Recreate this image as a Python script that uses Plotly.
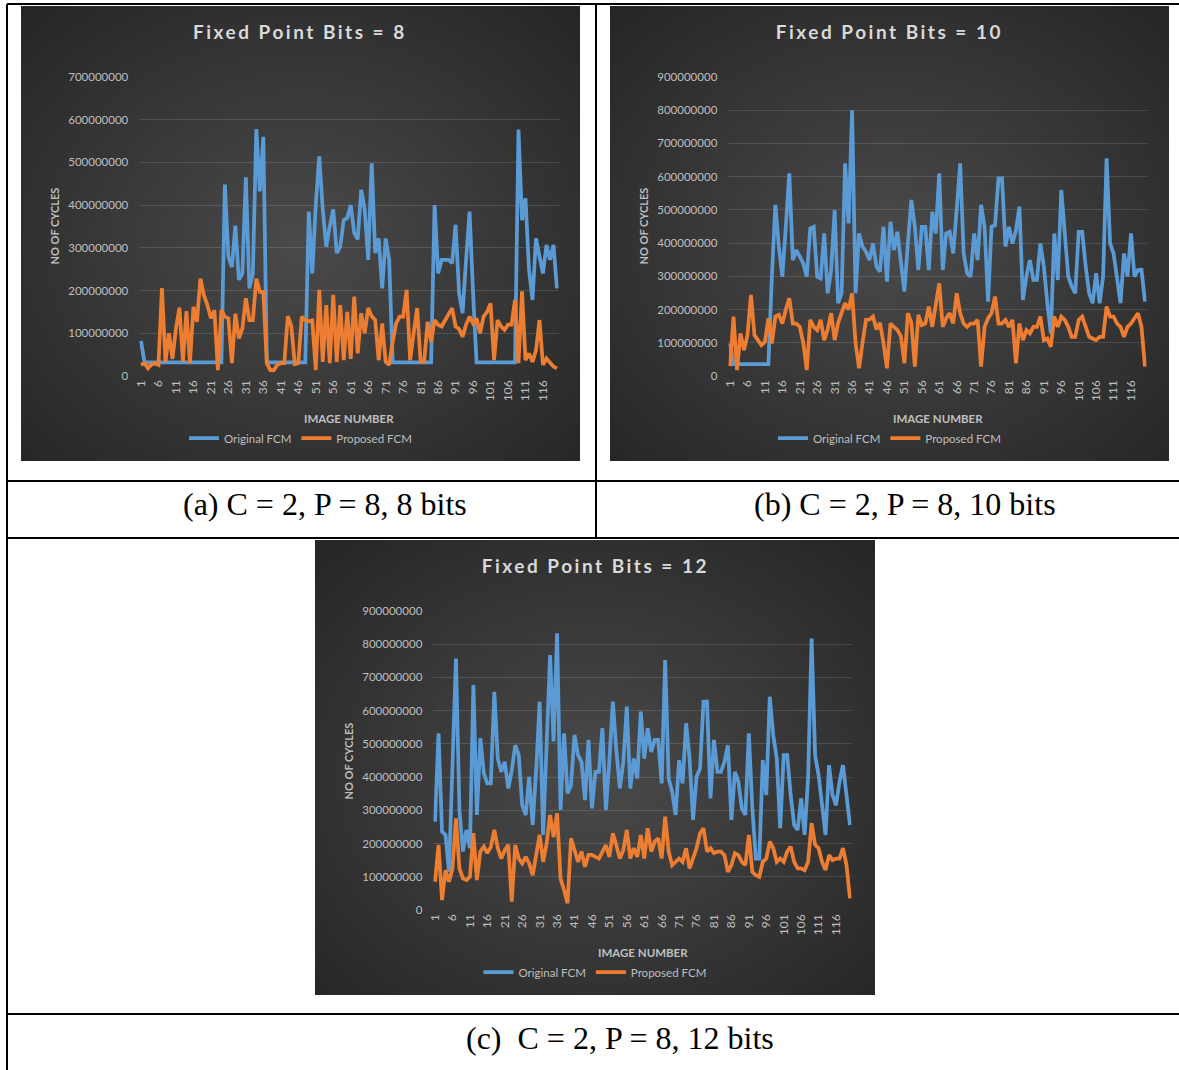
import base64
import plotly.graph_objects as go

W, H = 1179, 1070

# ---------------- data (values in millions of cycles) ----------------
image_numbers = list(range(1, 121))
x_tick_vals = [1, 6, 11, 16, 21, 26, 31, 36, 41, 46, 51, 56, 61, 66, 71, 76, 81, 86, 91, 96, 101, 106, 111, 116]
x_tick_text = [str(v) for v in x_tick_vals]

a_orig = [82, 32, 32, 32, 32, 32, 32, 32, 32, 32,
          32, 32, 32, 32, 32, 32, 32, 32, 32, 32,
          32, 32, 32, 32, 448, 280, 255, 352, 225, 240,
          465, 205, 240, 578, 432, 560, 32, 32, 32, 32,
          32, 32, 32, 32, 32, 32, 32, 32, 385, 240,
          400, 514, 389, 303, 350, 390, 288, 303, 365, 370,
          400, 335, 320, 436, 390, 272, 498, 288, 322, 205,
          322, 272, 32, 32, 32, 32, 32, 32, 32, 32,
          32, 32, 32, 32, 400, 240, 272, 272, 272, 264,
          354, 194, 147, 272, 385, 194, 32, 32, 32, 32,
          32, 32, 32, 32, 32, 32, 32, 32, 577, 365,
          416, 250, 178, 322, 280, 240, 307, 272, 307, 205]
a_prop = [26, 30, 18, 27, 30, 26, 206, 33, 100, 40,
          111, 160, 33, 152, 30, 162, 127, 228, 189, 166,
          135, 154, 14, 154, 139, 135, 30, 146, 88, 111,
          182, 131, 131, 228, 197, 197, 30, 14, 14, 26,
          30, 30, 140, 117, 28, 30, 139, 131, 128, 130,
          14, 202, 33, 166, 30, 190, 33, 166, 37, 150,
          40, 186, 53, 147, 100, 159, 140, 131, 37, 123,
          33, 26, 80, 123, 139, 139, 202, 37, 100, 159,
          33, 33, 127, 80, 131, 120, 116, 130, 145, 159,
          116, 110, 92, 120, 139, 123, 135, 100, 139, 150,
          170, 37, 131, 116, 108, 120, 120, 178, 30, 198,
          37, 53, 33, 60, 131, 26, 41, 30, 22, 18]

b_orig = [98, 36, 36, 36, 36, 36, 36, 36, 36, 36,
          36, 36, 300, 515, 389, 299, 450, 610, 349, 379,
          359, 339, 299, 444, 449, 299, 294, 429, 249, 319,
          499, 219, 249, 640, 459, 800, 249, 429, 389, 374,
          349, 399, 329, 314, 449, 284, 464, 379, 434, 349,
          254, 399, 530, 449, 319, 449, 449, 319, 494, 429,
          610, 319, 429, 434, 369, 500, 640, 369, 309, 299,
          429, 349, 515, 449, 224, 449, 454, 595, 595, 389,
          449, 399, 439, 510, 229, 300, 349, 289, 289, 399,
          330, 220, 128, 429, 289, 560, 440, 299, 270, 249,
          434, 434, 330, 249, 219, 309, 219, 300, 655, 399,
          369, 300, 219, 369, 299, 429, 299, 319, 320, 224]
b_prop = [30, 179, 18, 128, 78, 123, 244, 123, 108, 93,
          103, 174, 98, 179, 184, 158, 200, 234, 158, 158,
          148, 100, 18, 169, 148, 138, 169, 108, 140, 189,
          108, 160, 190, 219, 200, 249, 100, 23, 100, 169,
          170, 179, 140, 160, 100, 23, 158, 148, 138, 120,
          38, 189, 160, 28, 184, 153, 158, 209, 148, 214,
          279, 148, 174, 189, 158, 249, 189, 158, 148, 158,
          158, 169, 28, 148, 174, 189, 239, 158, 158, 169,
          148, 169, 38, 158, 108, 138, 128, 148, 148, 179,
          108, 113, 88, 179, 148, 179, 169, 148, 118, 118,
          169, 179, 148, 118, 113, 108, 118, 118, 209, 179,
          179, 158, 148, 118, 148, 158, 174, 189, 148, 28]

c_orig = [266, 532, 236, 226, 115, 400, 757, 300, 176, 241,
          186, 677, 286, 517, 411, 381, 381, 657, 456, 416,
          446, 366, 420, 496, 466, 316, 286, 401, 256, 420,
          627, 226, 500, 767, 507, 833, 301, 532, 351, 376,
          527, 466, 446, 331, 512, 306, 416, 416, 547, 301,
          450, 627, 480, 366, 446, 612, 366, 456, 396, 597,
          456, 547, 476, 512, 512, 381, 752, 396, 356, 286,
          451, 381, 562, 456, 271, 401, 426, 627, 627, 336,
          512, 416, 416, 446, 496, 271, 416, 386, 306, 286,
          532, 306, 155, 155, 451, 346, 642, 526, 456, 246,
          466, 466, 346, 256, 241, 336, 226, 400, 817, 466,
          406, 306, 226, 436, 346, 315, 386, 436, 346, 256]
c_prop = [85, 196, 30, 120, 85, 125, 276, 125, 95, 90,
          100, 231, 90, 176, 191, 171, 190, 241, 186, 155,
          180, 196, 25, 196, 155, 140, 160, 140, 105, 170,
          226, 145, 200, 286, 220, 291, 95, 60, 20, 216,
          176, 145, 176, 130, 166, 166, 160, 155, 175, 195,
          160, 231, 195, 155, 180, 241, 155, 186, 160, 226,
          155, 246, 176, 206, 216, 155, 281, 176, 135, 145,
          155, 145, 186, 125, 155, 186, 231, 246, 176, 186,
          171, 176, 176, 165, 115, 135, 171, 165, 145, 135,
          226, 115, 105, 100, 145, 155, 206, 186, 145, 155,
          145, 176, 191, 145, 125, 125, 120, 145, 261, 196,
          186, 145, 120, 165, 150, 155, 155, 186, 135, 35]

series_names = ["Original FCM", "Proposed FCM"]
chart_titles = ["Fixed Point Bits = 8", "Fixed Point Bits = 10", "Fixed Point Bits = 12"]
captions = ["(a) C = 2, P = 8, 8 bits", "(b) C = 2, P = 8, 10 bits", "(c)\u00a0 C = 2, P = 8, 12 bits"]
y_max = [700, 900, 900]

# ---------------- layout helpers ----------------
def px(x):
    return x / W


def py(y):
    return 1 - y / H


BLUE = "#5B9BD5"
ORANGE = "#ED7D31"
TXT = "#BFBFBF"
FONT = "Lato"

charts = [
    dict(box=(21, 6, 580, 461), plot=(139.25, 77, 558.7, 376), cap=(325, 504)),
    dict(box=(610, 6, 1169, 461), plot=(728.3, 77, 1146.7, 376), cap=(905, 504)),
    dict(box=(315, 540, 875, 995), plot=(433.3, 611, 851.7, 910), cap=(620, 1038)),
]
data_sets = [(a_orig, a_prop), (b_orig, b_prop), (c_orig, c_prop)]

fig = go.Figure()
layout = dict(
    width=W, height=H, autosize=False,
    margin=dict(l=0, r=0, t=0, b=0, pad=0, autoexpand=False),
    paper_bgcolor="white",
    plot_bgcolor="rgba(0,0,0,0)",
    showlegend=True,
    images=[], shapes=[], annotations=[],
)


def grad_src(w, h):
    svg = (
        f'<svg xmlns="http://www.w3.org/2000/svg" width="{w}" height="{h}" '
        f'viewBox="0 0 {w} {h}" preserveAspectRatio="none">'
        '<defs><radialGradient id="g" cx="50%" cy="52%" r="72%">'
        '<stop offset="0%" stop-color="#4a4a4a"/>'
        '<stop offset="100%" stop-color="#252525"/>'
        '</radialGradient></defs>'
        f'<rect width="{w}" height="{h}" fill="url(#g)"/></svg>'
    )
    return "data:image/svg+xml;base64," + base64.b64encode(svg.encode()).decode()


for k, ch in enumerate(charts):
    sfx = "" if k == 0 else str(k + 1)
    xa, ya = "xaxis" + sfx, "yaxis" + sfx
    xr, yr = "x" + sfx, "y" + sfx
    leg = "legend" + sfx
    x0, y0, x1, y1 = ch["box"]
    p0, q0, p1, q1 = ch["plot"]
    orig, prop = data_sets[k]

    layout["images"].append(dict(
        source=grad_src(int(x1 - x0), int(y1 - y0)), xref="paper", yref="paper",
        x=px(x0), y=py(y0), sizex=(x1 - x0) / W, sizey=(y1 - y0) / H,
        xanchor="left", yanchor="top", sizing="stretch", layer="below"))

    layout[xa] = dict(
        domain=[px(p0), px(p1)], range=[0.5, 120.5], anchor=yr,
        tickmode="array", tickvals=x_tick_vals, ticktext=x_tick_text,
        tickangle=-90, tickfont=dict(family=FONT, size=12, color=TXT),
        showgrid=False, zeroline=False, showline=False, ticks="",
        ticklabelstandoff=1, fixedrange=True, automargin=False)
    layout[ya] = dict(
        domain=[py(q1), py(q0)], range=[0, y_max[k] * 1e6], anchor=xr,
        dtick=1e8, tick0=0, tickformat="d",
        tickfont=dict(family=FONT, size=11.5, color=TXT),
        showgrid=True, gridcolor="rgba(255,255,255,0.13)", gridwidth=1,
        zeroline=False, showline=False, ticks="", ticklabelstandoff=10,
        fixedrange=True, automargin=False)

    for name, vals, col in ((series_names[0], orig, BLUE), (series_names[1], prop, ORANGE)):
        fig.add_trace(go.Scatter(
            x=image_numbers, y=[v * 1e6 for v in vals], mode="lines", name=name,
            line=dict(color=col, width=3.75), xaxis=xr, yaxis=yr, legend=leg,
            hoverinfo="skip"))

    cx = (x0 + x1) / 2
    layout[leg] = dict(
        orientation="h", x=px(cx), y=py(ch["box"][1] + 432), xanchor="center", yanchor="middle",
        bgcolor="rgba(0,0,0,0)", font=dict(family=FONT, size=11.5, color=TXT),
        itemwidth=30, tracegroupgap=0)

    # chart title
    layout["annotations"].append(dict(
        text=chart_titles[k], xref="paper", yref="paper", x=px(cx), y=py(y0 + 25),
        showarrow=False, xanchor="center", yanchor="middle",
        font=dict(family=FONT, size=19, color="#D9D9D9", weight="bold")))
    # y axis title
    layout["annotations"].append(dict(
        text="NO OF CYCLES", xref="paper", yref="paper", x=px(x0 + 33), y=py((q0 + q1) / 2),
        showarrow=False, textangle=-90, xanchor="center", yanchor="middle",
        font=dict(family=FONT, size=11, color=TXT, weight="bold")))
    # x axis title
    layout["annotations"].append(dict(
        text="IMAGE NUMBER", xref="paper", yref="paper", x=px((p0 + p1) / 2), y=py(q1 + 42),
        showarrow=False, xanchor="center", yanchor="middle",
        font=dict(family=FONT, size=11.5, color=TXT, weight="bold")))
    # caption
    layout["annotations"].append(dict(
        text=captions[k], xref="paper", yref="paper", x=px(ch["cap"][0]), y=py(ch["cap"][1]),
        showarrow=False, xanchor="center", yanchor="middle",
        font=dict(family="Liberation Serif", size=32, color="black")))

# table rules
def hline(y, xa=7, xb=1179):
    return dict(type="line", xref="paper", yref="paper", x0=px(xa), x1=px(xb), y0=py(y), y1=py(y),
                line=dict(color="black", width=2), layer="above")


def vline(x, ya, yb):
    return dict(type="line", xref="paper", yref="paper", x0=px(x), x1=px(x), y0=py(ya), y1=py(yb),
                line=dict(color="black", width=2), layer="above")


layout["shapes"] += [hline(4), hline(481), hline(538), hline(1014),
                     vline(7, 4, 1070), vline(596, 4, 538)]

fig.update_layout(**layout)

post = """
document.body.style.margin = '0';
document.body.style.padding = '0';
document.body.style.overflow = 'hidden';
document.documentElement.style.overflow = 'hidden';
document.querySelectorAll('text.annotation-text').forEach(function (t) {
  if (t.textContent.indexOf('Fixed Point Bits') === 0) { t.style.letterSpacing = '2.5px'; }
});
"""
fig.write_html("out.html", post_script=post)
